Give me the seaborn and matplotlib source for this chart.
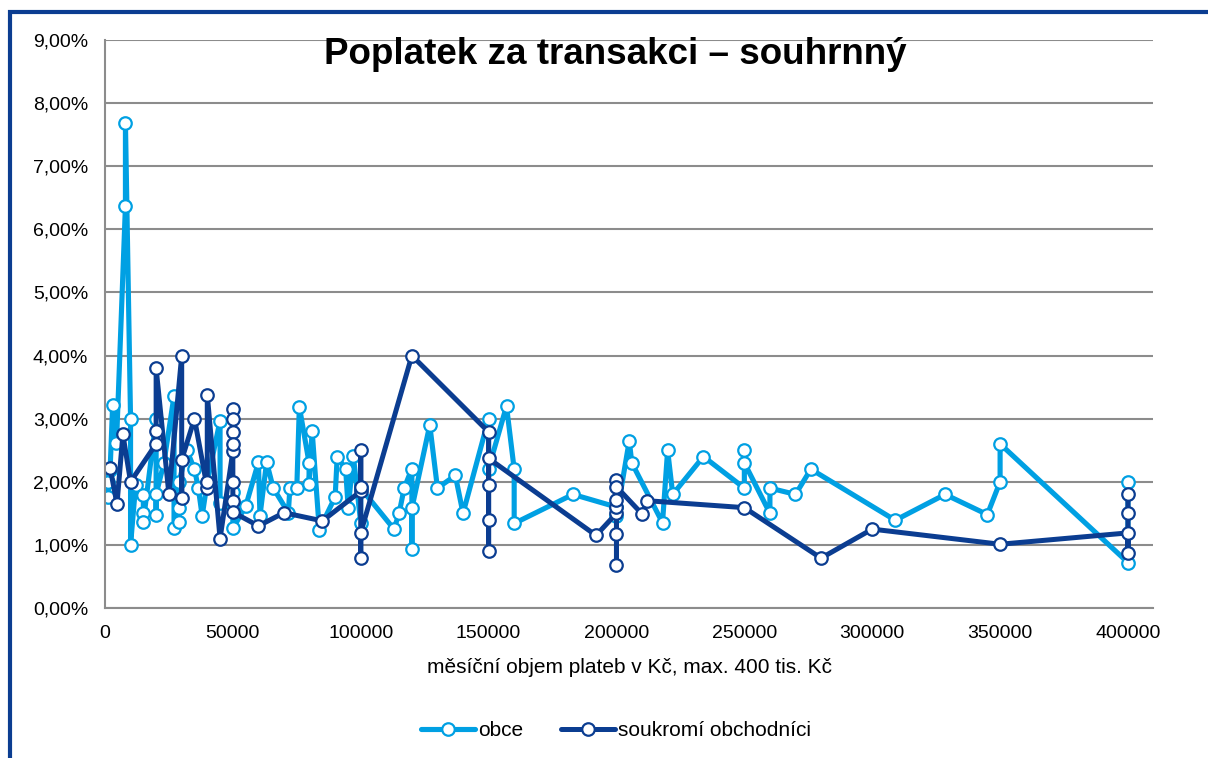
import seaborn as sns
import pandas as pd
import matplotlib.pyplot as plt
from matplotlib.patches import Rectangle
from matplotlib.ticker import FuncFormatter

# obce - mesicni objem plateb (Kc) a poplatek (%)
obce_x = [1000, 1200, 2000, 3000, 4500, 8000, 8000, 10000, 10000, 12000,
          15000, 15000, 15000, 20000, 20000, 20000, 23000, 27000, 27000, 29000,
          29000, 29000, 32000, 35000, 36500, 38000, 40000, 45000, 45000, 50000,
          50000, 50000, 55000, 60000, 60600, 63200, 65800, 71700, 72300, 75000,
          76000, 79800, 79800, 81000, 83800, 90000, 90800, 94100, 95100, 97100,
          100000, 100000, 113000, 115000, 117000, 120000, 120000, 120000, 127000, 130000,
          137000, 140000, 150000, 150000, 157000, 160000, 160000, 183000, 200000, 200000,
          205000, 206000, 218000, 220000, 222000, 234000, 250000, 250000, 250000, 260000,
          260000, 270000, 276000, 309000, 328500, 345000, 350000, 350000, 400000, 400000]
obce_y = [2.0, 1.76, 2.18, 3.22, 2.61, 6.37, 7.69, 3.0, 1.0, 1.95,
          1.79, 1.51, 1.37, 3.0, 1.48, 1.8, 2.29, 3.36, 1.26, 1.37,
          1.58, 2.0, 2.5, 2.2, 1.9, 1.46, 2.0, 2.97, 1.66, 1.84,
          1.63, 1.26, 1.61, 2.31, 1.46, 2.31, 1.9, 1.51, 1.9, 1.9,
          3.19, 2.3, 1.97, 2.81, 1.24, 1.76, 2.4, 2.2, 1.58, 2.41,
          1.35, 1.9, 1.25, 1.5, 1.9, 2.21, 0.94, 1.58, 2.9, 1.9,
          2.1, 1.5, 3.0, 2.21, 3.2, 2.2, 1.34, 1.8, 1.6, 1.45,
          2.65, 2.3, 1.35, 2.5, 1.8, 2.4, 1.9, 2.5, 2.3, 1.5,
          1.9, 1.8, 2.2, 1.39, 1.8, 1.48, 2.0, 2.6, 0.72, 2.0]

# soukromi obchodnici
sok_x = [2000, 4700, 7000, 10000, 20000, 20000, 20000, 25000, 30000, 30000,
         30000, 35000, 40000, 40000, 40000, 45000, 50000, 50000, 50000, 50000,
         50000, 50000, 50000, 50000, 60000, 70000, 85000, 100000, 100000, 100000,
         100000, 100000, 120000, 150000, 150000, 150000, 150000, 150000, 192000, 200000,
         200000, 200000, 200000, 200000, 200000, 200000, 210000, 212000, 250000, 280000,
         300000, 350000, 400000, 400000, 400000, 400000]
sok_y = [2.22, 1.65, 2.75, 2.0, 2.6, 2.8, 3.8, 1.8, 4.0, 1.75,
         2.35, 3.0, 1.9, 2.0, 3.38, 1.1, 2.48, 3.15, 3.0, 2.79,
         2.6, 1.99, 1.70, 1.52, 1.3, 1.51, 1.38, 1.85, 2.51, 1.92,
         0.79, 1.19, 4.0, 2.79, 1.40, 0.9, 1.95, 2.37, 1.15, 1.5,
         0.68, 1.18, 1.6, 1.71, 2.03, 1.92, 1.49, 1.70, 1.59, 0.79,
         1.25, 1.01, 1.19, 0.87, 1.5, 1.81]

x_ticks = [0, 50000, 100000, 150000, 200000, 250000, 300000, 350000, 400000]
y_ticks = [0, 1, 2, 3, 4, 5, 6, 7, 8, 9]

light = '#00A0E3'
dark = '#0B3D91'
grid_col = '#8C8C8C'

sns.set_style('white')
plt.rcParams['font.family'] = ['Liberation Sans', 'DejaVu Sans']
plt.rcParams['text.color'] = 'black'

df_obce = pd.DataFrame({'x': obce_x, 'y': obce_y})
df_sok = pd.DataFrame({'x': sok_x, 'y': sok_y})

fig = plt.figure(figsize=(12.08, 7.58), dpi=100)
ax = fig.add_axes([0.0869, 0.1979, 0.8676, 0.7493])

sns.lineplot(data=df_obce, x='x', y='y', sort=False, estimator=None, ax=ax,
             color=light, linewidth=3.7, marker='o', markersize=9,
             markerfacecolor='white', markeredgecolor=light, markeredgewidth=1.6,
             label='obce')
sns.lineplot(data=df_sok, x='x', y='y', sort=False, estimator=None, ax=ax,
             color=dark, linewidth=3.6, marker='o', markersize=9,
             markerfacecolor='white', markeredgecolor=dark, markeredgewidth=1.6,
             label='soukromí obchodníci')

ax.set_xlim(0, 409800)
ax.set_ylim(0, 9)
ax.set_xticks(x_ticks)
ax.set_yticks(y_ticks)
ax.yaxis.set_major_formatter(FuncFormatter(lambda v, p: f'{v:.2f}%'.replace('.', ',')))
ax.xaxis.set_major_formatter(FuncFormatter(lambda v, p: f'{int(v)}'))
ax.grid(axis='y', color=grid_col, linewidth=1.5)
ax.set_axisbelow(True)
for s in ['top', 'right']:
    ax.spines[s].set_visible(False)
for s in ['left', 'bottom']:
    ax.spines[s].set_color(grid_col)
    ax.spines[s].set_linewidth(1.5)
ax.tick_params(axis='both', direction='out', length=6, width=1.5, color=grid_col,
               labelsize=14, labelcolor='black', pad=6)
ax.set_xlabel('měsíční objem plateb v Kč, max. 400 tis. Kč', fontsize=15,
              labelpad=12, color='black')
ax.set_ylabel('')

ax.get_legend().remove()
handles, labels = ax.get_legend_handles_labels()
fig.legend(handles, labels, loc='center', bbox_to_anchor=(0.51, 0.036), ncol=2,
           frameon=False, fontsize=15, handlelength=2.6, handletextpad=0.15,
           columnspacing=1.8, labelcolor='black')

fig.text(0.509, 0.928, 'Poplatek za transakci – souhrnný', ha='center', va='center',
         fontsize=26.5, fontweight='bold', color='black')

# modry ramecek
fig.patches.append(Rectangle((9.5 / 1208, -0.2), 1.5, 1.2 - 11.5 / 758,
                             transform=fig.transFigure, fill=False,
                             edgecolor=dark, linewidth=3, figure=fig))

fig.savefig('out.png', dpi=100)
